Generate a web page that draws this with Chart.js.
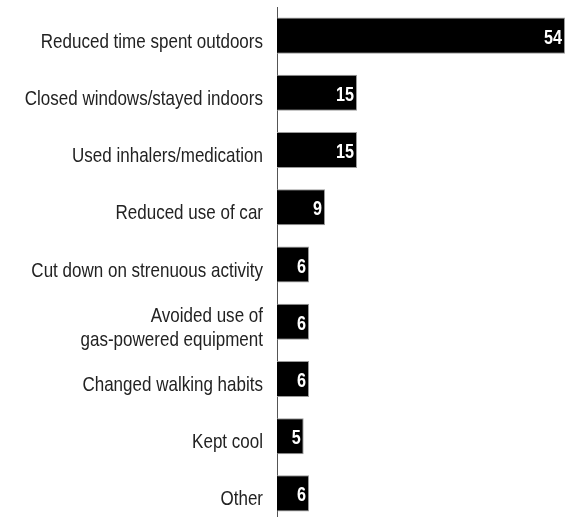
<!DOCTYPE html>
<html>
<head>
<meta charset="utf-8">
<script src="https://cdn.jsdelivr.net/npm/chart.js@4"></script>
<style>
  html, body { margin: 0; padding: 0; background: #fff; overflow: hidden; }
  #wrap { width: 567px; height: 517px; overflow: hidden; position: relative; }
  canvas { position: absolute; left: 0; top: 0; }
</style>
</head>
<body>
<div id="wrap"><canvas id="c" width="567" height="523"></canvas></div>
<script>
// Actions taken on poor air quality days (percent of respondents)
const categories = [
  "Reduced time spent outdoors",
  "Closed windows/stayed indoors",
  "Used inhalers/medication",
  "Reduced use of car",
  "Cut down on strenuous activity",
  ["Avoided use of", "gas-powered equipment"],
  "Changed walking habits",
  "Kept cool",
  "Other"
];
const percents = [54, 15, 15, 9, 6, 6, 6, 5, 6];

// Condensed text: use a narrow face when installed, otherwise squeeze a regular one.
function hasFont(name) {
  const cv = document.createElement('canvas').getContext('2d');
  const probe = 'Reduced time spent outdoors 0123456789';
  cv.font = '20px monospace';
  const base = cv.measureText(probe).width;
  cv.font = '20px "' + name + '", monospace';
  return Math.abs(cv.measureText(probe).width - base) > 0.5;
}
const NARROW = hasFont('Liberation Sans Narrow');
const FACE = NARROW ? '"Liberation Sans Narrow"' : '"Liberation Sans", Arial, sans-serif';
const SQUEEZE = NARROW ? 0.99 : 0.81;

function drawCondensed(ctx, text, x, y, font, align) {
  ctx.save();
  ctx.font = font;
  ctx.textAlign = align;
  ctx.textBaseline = 'alphabetic';
  ctx.translate(x, y);
  ctx.scale(SQUEEZE, 1);
  ctx.fillText(text, 0, 0);
  ctx.restore();
}

// Category names to the left of the axis, values in white inside each bar end
const textLayer = {
  id: 'textLayer',
  afterDatasetsDraw(chart) {
    const ctx = chart.ctx;
    const yScale = chart.scales.y;
    const right = chart.chartArea.left - 14;
    ctx.save();
    ctx.fillStyle = '#222222';
    categories.forEach((label, i) => {
      const cy = yScale.getPixelForTick(i);
      const lines = Array.isArray(label) ? label : [label];
      lines.forEach((line, j) => {
        const base = cy + 12 + (j - (lines.length - 1) / 2) * 24;
        drawCondensed(ctx, line, right, base, '21px ' + FACE, 'right');
      });
    });
    ctx.fillStyle = '#ffffff';
    const meta = chart.getDatasetMeta(0);
    meta.data.forEach((bar, i) => {
      drawCondensed(ctx, String(percents[i]), bar.x - 3, bar.y + 8, 'bold 20px ' + FACE, 'right');
    });
    ctx.restore();
  }
};

new Chart(document.getElementById('c'), {
  type: 'bar',
  data: {
    labels: categories,
    datasets: [{
      data: percents,
      backgroundColor: '#000000',
      borderColor: '#9a9a9a',
      borderWidth: 1,
      borderSkipped: 'start',
      categoryPercentage: 1,
      barPercentage: 0.63
    }]
  },
  options: {
    indexAxis: 'y',
    responsive: false,
    animation: false,
    layout: { padding: { top: 7, bottom: 1, left: 0, right: 2 } },
    plugins: {
      legend: { display: false },
      tooltip: { enabled: false }
    },
    scales: {
      x: {
        display: false,
        min: 0,
        max: 54
      },
      y: {
        afterFit(scale) {
          scale.width = 277;
          scale.paddingTop = 0;
          scale.paddingBottom = 0;
        },
        grid: { display: false, drawTicks: false },
        border: { display: true, color: '#555555', width: 1 },
        ticks: { display: false }
      }
    }
  },
  plugins: [textLayer]
});
</script>
</body>
</html>
